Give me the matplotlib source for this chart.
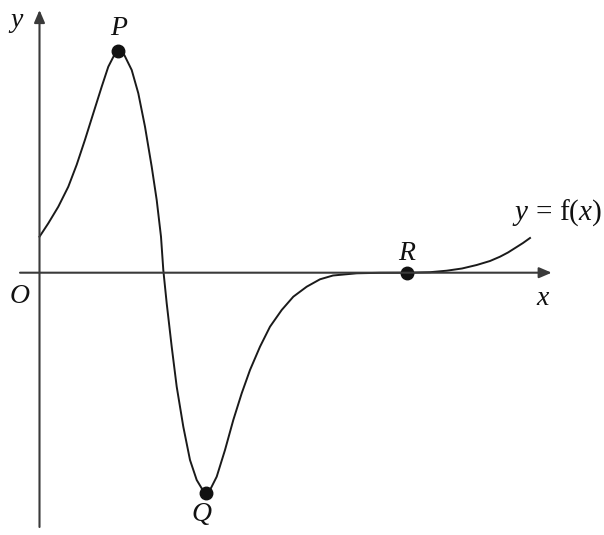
import matplotlib
matplotlib.use('Agg')
import matplotlib.pyplot as plt

plt.rcParams['mathtext.fontset'] = 'custom'
plt.rcParams['mathtext.rm'] = 'Liberation Serif'
plt.rcParams['mathtext.it'] = 'Liberation Serif:italic'

# curve (units: pixels from the origin)
curve_x = [0, 8.8, 18.8, 28.8, 37.2, 45.5, 53.8, 62.2, 68.8, 74.8, 78.8, 84.8, 92.2,
           98.8, 105.5, 112.2, 117.2, 121.5, 123.8, 127.2, 132.2, 137.2, 143.8, 150.5,
           157.2, 163.2, 166.5, 170.5, 177.2, 185.5, 193.8, 202.2, 210.5, 220.5, 230.5,
           242.2, 253.8, 267.2, 280.5, 293.5, 317.2, 340.5, 367.8, 390.5, 407.2, 422.5,
           437.2, 450.5, 460.5, 468.5, 477.2, 483.5, 490.5]
curve_y = [36, 49.4, 66, 86, 108, 133, 159.4, 186, 206, 217.7, 221.7, 217.7, 202.7,
           179.4, 146, 106, 72.7, 36, 2.7, -30.6, -74, -114, -154, -187.3, -207.3,
           -217.3, -220, -217.3, -204, -177.3, -147.3, -120.6, -97.3, -74, -54, -37.3,
           -24, -14, -6.6, -2.8, -0.6, -0.1, 0, 0.5, 2, 4.2, 7.7, 11.7, 16, 20.2, 25.7,
           29.7, 34.7]

point_names = ['P', 'Q', 'R']
point_x = [78.8, 166.5, 367.8]
point_y = [221.7, -220, 0]

fig = plt.figure(figsize=(6.04, 5.35), dpi=100)
ax = fig.add_axes([0, 0, 1, 1])
ax.set_xlim(-39.5, 564.5)
ax.set_ylim(-262.3, 272.7)
ax.axis('off')

axis_col = '#3a3a3a'
arrow = dict(arrowstyle='-|>,head_length=0.75,head_width=0.32', lw=1.5,
             color=axis_col, shrinkA=0, shrinkB=0)
ax.annotate('', xy=(512.2, 0), xytext=(-19.5, 0), arrowprops=arrow)
ax.annotate('', xy=(0, 262.7), xytext=(0, -254.3), arrowprops=arrow)

ax.plot(curve_x, curve_y, color='#1a1a1a', lw=1.4, solid_joinstyle='round')
ax.plot(point_x, point_y, 'o', color='#111111', ms=9)

fs = 20
lbl = dict(fontsize=fs, ha='center', va='center', color='#111111')
label_pos = [(79.5, 245.7), (162.2, -240.3), (367.8, 21)]
for name, (lx, ly) in zip(point_names, label_pos):
    ax.text(lx, ly, f'${name}$', **lbl)
ax.text(-19.5, -22.3, '$O$', **lbl)
ax.text(503.5, -24, '$x$', **lbl)
ax.text(-23.5, 252, '$y$', **lbl)
ax.text(472.5, 59.7, r'$y\,=\,\mathrm{f}(x)$', fontsize=21, ha='left', va='center',
        color='#111111')

plt.savefig('out.png', dpi=100)
plt.close()
